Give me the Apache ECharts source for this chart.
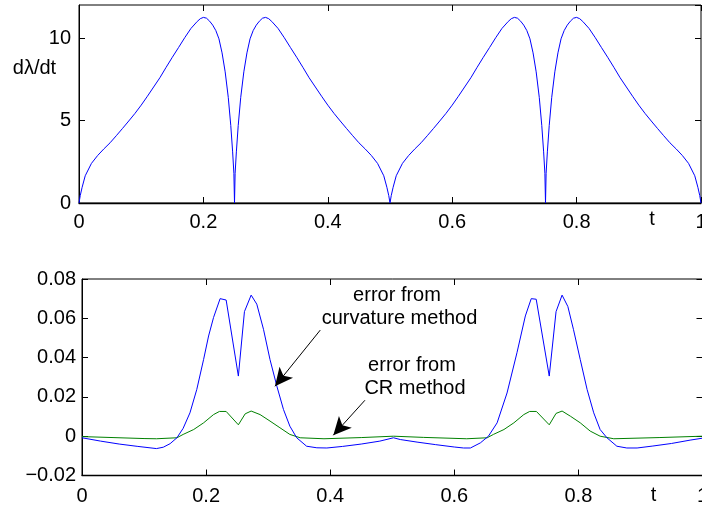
<!DOCTYPE html>
<html>
<head>
<meta charset="utf-8">
<script src="https://cdn.jsdelivr.net/npm/echarts@6/dist/echarts.min.js"></script>
<style>
html,body{margin:0;padding:0;background:#fff;}
#c{width:702px;height:506px;}
</style>
</head>
<body>
<div id="c"></div>
<script>
// ---- top panel: d(lambda)/dt ----
var tTop = [
  0, 0.002, 0.005, 0.01, 0.02, 0.03, 0.04, 0.05, 0.06, 0.07, 0.08, 0.09, 0.10, 0.11, 0.12, 0.13, 0.14, 0.15,
  0.16, 0.17, 0.18, 0.19, 0.195, 0.20, 0.205, 0.21, 0.215, 0.22, 0.225, 0.23, 0.235, 0.24, 0.244, 0.247, 0.249, 0.25,
  0.251, 0.253, 0.256, 0.26, 0.265, 0.27, 0.275, 0.28, 0.285, 0.29, 0.295, 0.30, 0.305, 0.31, 0.32, 0.33, 0.34,
  0.35, 0.36, 0.37, 0.38, 0.39, 0.40, 0.41, 0.42, 0.43, 0.44, 0.45, 0.46, 0.47, 0.48, 0.49, 0.495, 0.498,
  0.5, 0.502, 0.505, 0.51, 0.52, 0.53, 0.54, 0.55, 0.56, 0.57, 0.58, 0.59, 0.60, 0.61, 0.62, 0.63, 0.64, 0.65,
  0.66, 0.67, 0.68, 0.69, 0.695, 0.70, 0.705, 0.71, 0.715, 0.72, 0.725, 0.73, 0.735, 0.74, 0.744, 0.747, 0.749, 0.75,
  0.751, 0.753, 0.756, 0.76, 0.765, 0.77, 0.775, 0.78, 0.785, 0.79, 0.795, 0.80, 0.805, 0.81, 0.82, 0.83, 0.84,
  0.85, 0.86, 0.87, 0.88, 0.89, 0.90, 0.91, 0.92, 0.93, 0.94, 0.95, 0.96, 0.97, 0.98, 0.99, 0.995, 0.998, 1.0
];
var vTop = [
  0, 0.45, 0.95, 1.65, 2.40, 2.88, 3.28, 3.65, 4.08, 4.52, 4.97, 5.43, 5.93, 6.47, 7.03, 7.59, 8.22, 8.83,
  9.42, 10.02, 10.58, 11.00, 11.17, 11.25, 11.20, 11.02, 10.78, 10.45, 9.95, 9.10, 7.95, 6.40, 4.70, 3.10, 1.80, 0,
  1.80, 3.10, 4.70, 6.40, 7.95, 9.10, 9.95, 10.45, 10.78, 11.02, 11.20, 11.25, 11.17, 11.00, 10.58, 10.02, 9.42,
  8.83, 8.22, 7.59, 7.03, 6.47, 5.93, 5.43, 4.97, 4.52, 4.08, 3.65, 3.28, 2.88, 2.40, 1.65, 0.95, 0.45,
  0, 0.45, 0.95, 1.65, 2.40, 2.88, 3.28, 3.65, 4.08, 4.52, 4.97, 5.43, 5.93, 6.47, 7.03, 7.59, 8.22, 8.83,
  9.42, 10.02, 10.58, 11.00, 11.17, 11.25, 11.20, 11.02, 10.78, 10.45, 9.95, 9.10, 7.95, 6.40, 4.70, 3.10, 1.80, 0,
  1.80, 3.10, 4.70, 6.40, 7.95, 9.10, 9.95, 10.45, 10.78, 11.02, 11.20, 11.25, 11.17, 11.00, 10.58, 10.02, 9.42,
  8.83, 8.22, 7.59, 7.03, 6.47, 5.93, 5.43, 4.97, 4.52, 4.08, 3.65, 3.28, 2.88, 2.40, 1.65, 0.95, 0.45, 0
];

// ---- bottom panel: error from curvature method (blue) ----
var tCurv = [
  0, 0.03, 0.06, 0.09, 0.12, 0.131, 0.142, 0.153, 0.163, 0.174, 0.185, 0.196, 0.204, 0.212, 0.2226, 0.2323,
  0.252, 0.2618, 0.2726, 0.2817, 0.2925, 0.303, 0.314, 0.3247, 0.335, 0.346, 0.362, 0.3785, 0.3946, 0.42, 0.45,
  0.48, 0.502, 0.513, 0.54, 0.57, 0.60, 0.615, 0.626, 0.642, 0.655, 0.669, 0.685, 0.701, 0.7145, 0.724, 0.732,
  0.753, 0.764, 0.7737, 0.783, 0.792, 0.803, 0.814, 0.8247, 0.835, 0.846, 0.862, 0.878, 0.8946, 0.92, 0.95, 0.98, 1.0
];
var vCurv = [
  -0.0008, -0.0025, -0.0040, -0.0052, -0.0063, -0.0056, -0.0038, -0.0008, 0.0040, 0.0119, 0.0238, 0.0391, 0.0510, 0.0604, 0.0700, 0.0693,
  0.0306, 0.0634, 0.0718, 0.0672, 0.0544, 0.0390, 0.0255, 0.0136, 0.0051, -0.0008, -0.0051, -0.0059, -0.0060, -0.0052, -0.0040,
  -0.0025, -0.0008, -0.0017, -0.0030, -0.0043, -0.0055, -0.0060, -0.0060, -0.0034, 0.0000, 0.0068, 0.0220, 0.0425, 0.0612, 0.0700, 0.0697,
  0.0306, 0.0634, 0.0718, 0.0660, 0.0544, 0.0390, 0.0238, 0.0119, 0.0034, -0.0008, -0.0051, -0.0060, -0.0060, -0.0050, -0.0037, -0.0020, -0.0010
];

// ---- bottom panel: error from CR method (green) ----
var tCR = [
  0, 0.05, 0.10, 0.12, 0.153, 0.163, 0.18, 0.196, 0.212, 0.2215, 0.2323, 0.252, 0.263, 0.2726, 0.287, 0.303,
  0.319, 0.335, 0.3516, 0.39, 0.45, 0.502, 0.55, 0.62, 0.653, 0.663, 0.68, 0.696, 0.712, 0.7215, 0.7323, 0.753,
  0.764, 0.7737, 0.787, 0.803, 0.819, 0.835, 0.857, 0.93, 1.0
];
var vCR = [
  -0.0002, -0.0007, -0.0012, -0.0013, -0.0008, 0.0009, 0.0034, 0.0068, 0.0110, 0.0126, 0.0126, 0.0058, 0.0114, 0.0128, 0.0110, 0.0077,
  0.0043, 0.0009, -0.0008, -0.0013, -0.0007, 0.0000, -0.0006, -0.0013, -0.0008, 0.0009, 0.0034, 0.0068, 0.0110, 0.0126, 0.0126, 0.0058,
  0.0116, 0.0128, 0.0102, 0.0068, 0.0026, 0.0000, -0.0013, -0.0007, 0.0000
];

// annotation arrows (tail -> head), in data units of the bottom panel
var arrowCurv = [[0.384, 0.054], [0.311, 0.0254]];
var arrowCR = [[0.456, 0.0183], [0.405, 0.0005]];

var topXTicks = ['0', '0.2', '0.4', '0.6', '0.8', '1'];
var topYTicks = ['0', '5', '10'];
var botYTicks = ['\u22120.02', '0', '0.02', '0.04', '0.06', '0.08'];

function pairs(xs, ys) { return xs.map(function (x, i) { return [x, ys[i]]; }); }

var FONT = '"Liberation Sans", Arial, Helvetica, sans-serif';
var tickStyle = { show: true, inside: true, length: 6, lineStyle: { color: '#000', width: 1 } };
var lbl = { color: '#000', fontSize: 20, fontFamily: FONT };

function xAx(grid, primary) {
  return {
    type: 'value', gridIndex: grid, min: 0, max: 1, interval: 0.2,
    position: primary ? 'bottom' : 'top',
    axisLine: { show: primary, onZero: false, lineStyle: { color: '#000', width: 1.3 } },
    axisTick: tickStyle, splitLine: { show: false },
    axisLabel: primary ? Object.assign({ margin: grid === 0 ? 9 : 11, formatter: function (v) {
      return topXTicks[Math.round(v / 0.2)];
    } }, lbl) : { show: false }
  };
}

var option = {
  animation: false,
  backgroundColor: '#fff',
  grid: [
    { left: 79, top: 5, width: 622, height: 198, show: true, borderColor: '#000', borderWidth: 1, backgroundColor: 'transparent',
      containLabel: false, outerBoundsMode: 'none' },
    { left: 82, top: 279, width: 620.5, height: 196.5, show: true, borderColor: '#000', borderWidth: 1, backgroundColor: 'transparent',
      containLabel: false, outerBoundsMode: 'none' }
  ],
  xAxis: [xAx(0, true), xAx(0, false), xAx(1, true), xAx(1, false)],
  yAxis: [
    { type: 'value', gridIndex: 0, min: 0, max: 12, interval: 5, position: 'left',
      axisLine: { show: true, onZero: false, lineStyle: { color: '#000', width: 1 } }, axisTick: tickStyle, splitLine: { show: false },
      axisLabel: Object.assign({ margin: 8, showMaxLabel: false, formatter: function (v) {
        var i = Math.round(v / 5); return (Math.abs(v - i * 5) < 1e-6 && topYTicks[i]) ? topYTicks[i] : '';
      } }, lbl) },
    { type: 'value', gridIndex: 0, min: 0, max: 12, interval: 5, position: 'right',
      axisLine: { show: false, onZero: false }, axisTick: tickStyle, splitLine: { show: false }, axisLabel: { show: false } },
    { type: 'value', gridIndex: 1, min: -0.02, max: 0.08, interval: 0.02, position: 'left',
      axisLine: { show: true, onZero: false, lineStyle: { color: '#000', width: 1 } }, axisTick: tickStyle, splitLine: { show: false },
      axisLabel: Object.assign({ margin: 6, formatter: function (v) {
        return botYTicks[Math.round((v + 0.02) / 0.02)];
      } }, lbl) },
    { type: 'value', gridIndex: 1, min: -0.02, max: 0.08, interval: 0.02, position: 'right',
      axisLine: { show: false, onZero: false }, axisTick: tickStyle, splitLine: { show: false }, axisLabel: { show: false } }
  ],
  series: [
    { type: 'line', xAxisIndex: 0, yAxisIndex: 0, data: pairs(tTop, vTop), showSymbol: false, symbol: 'none',
      lineStyle: { color: '#0000ff', width: 1 }, itemStyle: { color: '#0000ff' } },
    { type: 'line', xAxisIndex: 2, yAxisIndex: 2, data: pairs(tCR, vCR), showSymbol: false, symbol: 'none',
      lineStyle: { color: '#008000', width: 1 }, itemStyle: { color: '#008000' } },
    { type: 'line', xAxisIndex: 2, yAxisIndex: 2, data: pairs(tCurv, vCurv), showSymbol: false, symbol: 'none',
      lineStyle: { color: '#0000ff', width: 1 }, itemStyle: { color: '#0000ff' },
      markLine: {
        silent: true, animation: false,
        symbol: ['none', 'arrow'], symbolSize: [13, 18],
        lineStyle: { color: '#000', width: 1, type: 'solid' },
        itemStyle: { color: '#000' },
        label: { show: false },
        emphasis: { disabled: true },
        data: [
          [{ coord: arrowCurv[0] }, { coord: arrowCurv[1] }],
          [{ coord: arrowCR[0] }, { coord: arrowCR[1] }]
        ]
      }
    }
  ],
  graphic: [
    { type: 'text', x: 34.5, y: 68, style: { text: 'd\u03bb/dt', font: '20px ' + FONT, fill: '#000', textAlign: 'center', textVerticalAlign: 'middle' } },
    { type: 'text', x: 652, y: 219, style: { text: 't', font: '20px ' + FONT, fill: '#000', textAlign: 'center', textVerticalAlign: 'middle' } },
    { type: 'text', x: 653.5, y: 495, style: { text: 't', font: '20px ' + FONT, fill: '#000', textAlign: 'center', textVerticalAlign: 'middle' } },
    { type: 'text', x: 397, y: 295, style: { text: 'error from', font: '20px ' + FONT, fill: '#000', textAlign: 'center', textVerticalAlign: 'middle' } },
    { type: 'text', x: 399.5, y: 318, style: { text: 'curvature method', font: '20px ' + FONT, fill: '#000', textAlign: 'center', textVerticalAlign: 'middle' } },
    { type: 'text', x: 412, y: 365.5, style: { text: 'error from', font: '20px ' + FONT, fill: '#000', textAlign: 'center', textVerticalAlign: 'middle' } },
    { type: 'text', x: 415, y: 388, style: { text: 'CR method', font: '20px ' + FONT, fill: '#000', textAlign: 'center', textVerticalAlign: 'middle' } }
  ]
};

var chart = echarts.init(document.getElementById('c'), null, { renderer: 'canvas' });
chart.setOption(option);
</script>
</body>
</html>
